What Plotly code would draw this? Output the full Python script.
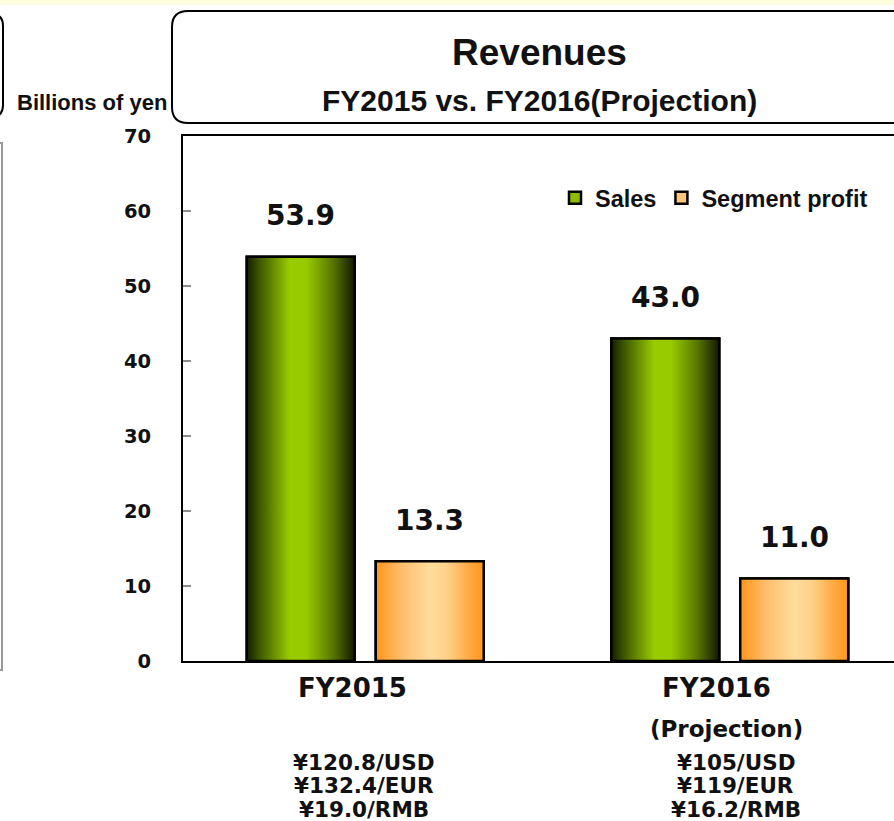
import plotly.graph_objects as go

# ---- data ----
categories = ["FY2015", "FY2016"]
category_notes = ["", "(Projection)"]
sales = [53.9, 43.0]
segment_profit = [13.3, 11.0]
fx_rates = [
    ["¥120.8/USD", "¥132.4/EUR", "¥19.0/RMB"],
    ["¥105/USD", "¥119/EUR", "¥16.2/RMB"],
]
y_ticks = [0, 10, 20, 30, 40, 50, 60, 70]

# ---- page geometry (pixels) ----
W, H = 894, 821
ML, MT, MB = 183, 136, 160
PW = W - ML
PH = H - MT - MB
CAT_PX = 364.5                   # width of one category slot
BAR_W = 108 / CAT_PX             # bar width in category units
BAR_OFF = 64.5 / CAT_PX          # bar centre offset from category centre

def px(x):
    return (x - ML) / PW

def py(y):
    return (H - MB - y) / PH

xpos = list(range(len(categories)))

SANS_N = "Liberation Sans Narrow, Arial Narrow, Liberation Sans, Arial, sans-serif"
SANS_W = "DejaVu Sans, Verdana, Tahoma, sans-serif"

green_scale = [[0, "#141c00"], [0.12, "#3f5800"], [0.4, "#99cc00"], [0.55, "#99cc00"],
               [0.8, "#587500"], [1, "#121800"]]
orange_scale = [[0, "#ff961a"], [0.25, "#ffbf70"], [0.5, "#fedc9c"], [0.65, "#fed38c"],
                [0.85, "#ffac48"], [1, "#ff9618"]]

fig = go.Figure()

series = [
    ("Sales", sales, -BAR_OFF, "#8dbb00", green_scale),
    ("Segment profit", segment_profit, BAR_OFF, "#ffc57a", orange_scale),
]

for name, vals, off, solid, scale in series:
    fig.add_trace(go.Bar(
        x=xpos, y=vals, name=name, width=BAR_W, offset=off - BAR_W / 2,
        marker=dict(color=solid, line=dict(color="black", width=2.5)),
        hoverinfo="y",
    ))

# gradient faces drawn over each bar
for name, vals, off, solid, scale in series:
    for xc, v in zip(xpos, vals):
        x0, x1 = xc + off - BAR_W / 2, xc + off + BAR_W / 2
        fig.add_trace(go.Scatter(
            x=[x0, x1, x1, x0, x0], y=[0, 0, v, v, 0], mode="lines",
            fill="toself",
            fillgradient=dict(type="horizontal", colorscale=scale),
            line=dict(color="black", width=2.5),
            showlegend=False, hoverinfo="skip",
        ))

annotations = []
# value labels above bars
for name, vals, off, solid, scale in series:
    for xc, v in zip(xpos, vals):
        annotations.append(dict(
            x=xc + off, y=v, xref="x", yref="y", text=f"<b>{v:.1f}</b>",
            showarrow=False, yshift=41, yanchor="middle",
            font=dict(family=SANS_W, size=28, color="#111"),
        ))

# category captions and exchange rates beneath the axis
for xc, cat, note, rates in zip(xpos, categories, category_notes, fx_rates):
    annotations.append(dict(
        x=xc, y=py(688), xref="x", yref="paper", text=f"<b>{cat}</b>",
        showarrow=False, xshift=-13, yanchor="middle",
        font=dict(family=SANS_W, size=26, color="#111"),
    ))
    if note:
        annotations.append(dict(
            x=xc, y=py(729), xref="x", yref="paper", text=f"<b>{note}</b>",
            showarrow=False, xshift=-3, yanchor="middle",
            font=dict(family=SANS_W, size=23, color="#111"),
        ))
    for i, r in enumerate(rates):
        annotations.append(dict(
            x=xc, y=py(762 + 23.5 * i), xref="x", yref="paper", text=f"<b>{r}</b>",
            showarrow=False, xshift=-1 if xc == 0 else 6, yanchor="middle",
            font=dict(family=SANS_W, size=21.5, color="#111"),
        ))

# heading and unit
annotations += [
    dict(x=px(539), y=py(52), xref="paper", yref="paper", text="<b>Revenues</b>",
         showarrow=False, xanchor="center", yanchor="middle",
         font=dict(family=SANS_N, size=37, color="#111")),
    dict(x=px(539), y=py(100), xref="paper", yref="paper",
         text="<b>FY2015 vs. FY2016(Projection)</b>",
         showarrow=False, xanchor="center", yanchor="middle",
         font=dict(family=SANS_N, size=30, color="#111")),
    dict(x=px(169), y=py(103), xref="paper", yref="paper", text="<b>Billions of yen</b>",
         showarrow=False, xanchor="right", yanchor="middle",
         font=dict(family=SANS_N, size=22, color="#111")),
]

def rounded_rect(x0, y0, x1, y1, r):
    # path in paper units from pixel corners
    rx, ry = r / PW, r / PH
    X0, X1, Y0, Y1 = px(x0), px(x1), py(y0), py(y1)
    return (f"M{X0 + rx},{Y0} L{X1 - rx},{Y0} Q{X1},{Y0} {X1},{Y0 - ry} "
            f"L{X1},{Y1 + ry} Q{X1},{Y1} {X1 - rx},{Y1} L{X0 + rx},{Y1} "
            f"Q{X0},{Y1} {X0},{Y1 + ry} L{X0},{Y0 - ry} Q{X0},{Y0} {X0 + rx},{Y0} Z")

shapes = [
    # pale band along the top edge
    dict(type="rect", xref="paper", yref="paper", x0=px(-5), x1=px(W + 5), y0=py(0), y1=py(5),
         fillcolor="#ffffdf", line=dict(width=0), layer="below"),
    # heading frame
    dict(type="path", xref="paper", yref="paper", path=rounded_rect(172, 11, 940, 123, 16),
         line=dict(color="black", width=2), fillcolor="rgba(0,0,0,0)"),
    # neighbouring panel edges at the left
    dict(type="path", xref="paper", yref="paper", path=rounded_rect(-60, 14, 3, 117, 12),
         line=dict(color="black", width=2), fillcolor="rgba(0,0,0,0)"),
    dict(type="rect", xref="paper", yref="paper", x0=px(-40), x1=px(2), y0=py(143), y1=py(670),
         line=dict(color="#9a9a9a", width=2), fillcolor="rgba(0,0,0,0)"),
]

fig.update_layout(
    width=W, height=H,
    margin=dict(l=ML, r=0, t=MT, b=MB),
    paper_bgcolor="white", plot_bgcolor="white",
    barmode="overlay",
    showlegend=True,
    legend=dict(
        orientation="h", x=px(555), y=py(198), xanchor="left", yanchor="middle",
        font=dict(family=SANS_N, size=23.5, color="#111", weight="bold"),
        bgcolor="rgba(0,0,0,0)", itemwidth=30, tracegroupgap=0,
    ),
    xaxis=dict(
        range=[-0.5, -0.5 + PW / CAT_PX], showticklabels=False, ticks="",
        showgrid=False, zeroline=False, showline=True, linecolor="black",
        linewidth=2, mirror=True, fixedrange=True,
    ),
    yaxis=dict(
        range=[0, 70], tickvals=y_ticks, ticks="inside", ticklen=8,
        tickcolor="#8c8c8c", tickwidth=2, showgrid=False, zeroline=False,
        showline=True, linecolor="black", linewidth=2,
        tickfont=dict(family=SANS_W, size=19.5, color="#111", weight="bold"),
        ticklabelstandoff=26, fixedrange=True,
    ),
    annotations=annotations,
    shapes=shapes,
)

fig.write_html("out.html", config={"displayModeBar": False})
